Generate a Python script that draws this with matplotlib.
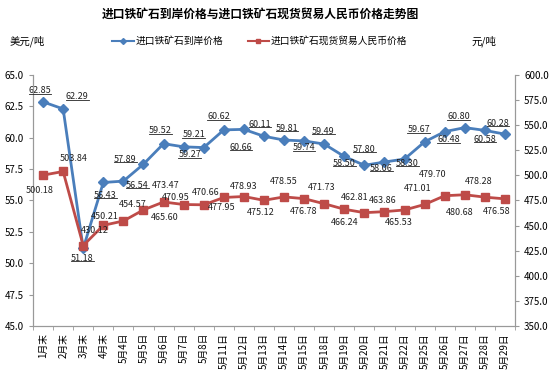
import numpy as np
import matplotlib
matplotlib.use("Agg")
import matplotlib.pyplot as plt
from matplotlib.lines import Line2D

plt.rcParams['font.family'] = ['Noto Sans CJK SC', 'DejaVu Sans']

dates = ['1月末', '2月末', '3月末', '4月末', '5月4日', '5月5日', '5月6日', '5月7日',
         '5月8日', '5月11日', '5月12日', '5月13日', '5月14日', '5月15日', '5月18日',
         '5月19日', '5月20日', '5月21日', '5月22日', '5月25日', '5月26日', '5月27日',
         '5月28日', '5月29日']
usd_price = [62.85, 62.29, 51.18, 56.43, 56.54, 57.89, 59.52, 59.27, 59.21, 60.62,
             60.66, 60.11, 59.81, 59.74, 59.49, 58.50, 57.80, 58.06, 58.30, 59.67,
             60.48, 60.80, 60.58, 60.28]
rmb_price = [500.18, 503.84, 430.12, 450.21, 454.57, 465.60, 473.47, 470.95, 470.66,
             477.95, 478.93, 475.12, 478.55, 476.78, 471.73, 466.24, 462.81, 463.86,
             465.53, 471.01, 479.70, 480.68, 478.28, 476.58]

# label centre offsets from the point, in pixels (dx, dy up)
blue_off = [(-3, 11), (14, 12), (-1, -10), (2, -13), (14, -4), (-18, 5), (-3, 13),
            (6, -8), (-10, 13), (-5, 13), (-3, -18), (-4, 12), (3, 12), (0, -7),
            (-1, 13), (0, -7), (0, 16), (-3, -6), (3, -4), (-6, 12), (4, -8),
            (-6, 11), (0, -9), (-7, 11)]
red_off = [(-3, -15), (11, 13), (12, 15), (2, 9), (9, 16), (21, -8), (2, 16),
           (-8, 7), (2, 12), (-2, -10), (0, 10), (-3, -12), (0, 15), (-1, -13),
           (-3, 16), (0, -13), (-10, 15), (-2, 11), (-6, -13), (-7, 16), (-12, 21),
           (-5, -18), (-6, 16), (-8, -13)]

blue = '#4A7EBB'
red = '#BE4B48'
px = 72.0 / 100

fig = plt.figure(figsize=(5.53, 3.84), dpi=100)
ax = fig.add_axes([0.0597, 0.151, 0.8716, 0.654])
ax2 = ax.twinx()

x = np.arange(len(dates))
ax.plot(x, usd_price, color=blue, lw=2, marker='D', ms=5, zorder=3)
ax2.plot(x, rmb_price, color=red, lw=2, marker='s', ms=6, zorder=3)

ax.set_xlim(-0.5, len(dates) - 0.5)
ax.set_ylim(45, 65)
ax.set_yticks(np.arange(45, 65.1, 2.5))
ax.set_yticklabels(['%.1f' % v for v in np.arange(45, 65.1, 2.5)])
ax2.set_ylim(350, 600)
ax2.set_yticks(np.arange(350, 600.1, 25))
ax2.set_yticklabels(['%.1f' % v for v in np.arange(350, 600.1, 25)])

ax.set_xticks(x)
ax.set_xticklabels(dates, rotation=90, fontsize=7)
ax.set_xticks(np.arange(-0.5, len(dates), 1), minor=True)
ax.tick_params(axis='x', which='major', length=0, pad=5)
ax.tick_params(axis='x', which='minor', length=3, color='#999999')
ax.tick_params(axis='y', labelsize=7, length=3, color='#999999')
ax2.tick_params(axis='y', labelsize=7, length=3, color='#999999')

for a in (ax, ax2):
    a.spines['top'].set_visible(False)
    for s in ('left', 'right', 'bottom'):
        a.spines[s].set_color('#999999')

blue_texts = []
for i, v in enumerate(usd_price):
    dx, dy = blue_off[i]
    t = ax.annotate('%.2f' % v, (i, v), xytext=(dx * px, dy * px),
                    textcoords='offset points', ha='center', va='center',
                    fontsize=6.5, color='#222222', zorder=4)
    blue_texts.append(t)
for i, v in enumerate(rmb_price):
    dx, dy = red_off[i]
    ax2.annotate('%.2f' % v, (i, v), xytext=(dx * px, dy * px),
                 textcoords='offset points', ha='center', va='center',
                 fontsize=6.5, color='#222222', zorder=4)

fig.text(0.47, 0.962, '进口铁矿石到岸价格与进口铁矿石现货贸易人民币价格走势图',
         ha='center', va='center', fontsize=8.5, fontweight='bold')
fig.text(0.018, 0.893, '美元/吨', ha='left', va='center', fontsize=7.5)
fig.text(0.853, 0.893, '元/吨', ha='left', va='center', fontsize=7.5)

handles = [Line2D([], [], color=blue, lw=1.5, marker='D', ms=3),
           Line2D([], [], color=red, lw=1.5, marker='s', ms=3.5)]
fig.legend(handles, ['进口铁矿石到岸价格', '进口铁矿石现货贸易人民币价格'],
           loc='center', bbox_to_anchor=(0.47, 0.893), ncol=2, frameon=False,
           fontsize=7, handlelength=2.2, columnspacing=2.5, handletextpad=0.2)

# underline the blue labels, like the original
fig.canvas.draw()
r = fig.canvas.get_renderer()
W, H = fig.get_size_inches() * fig.dpi
for t in blue_texts:
    bb = t.get_window_extent(r)
    yline = bb.y0 + 1.5
    fig.add_artist(Line2D([bb.x0 / W, bb.x1 / W], [yline / H, yline / H],
                          color='#222222', lw=0.6))

fig.savefig('out.png', dpi=100)
